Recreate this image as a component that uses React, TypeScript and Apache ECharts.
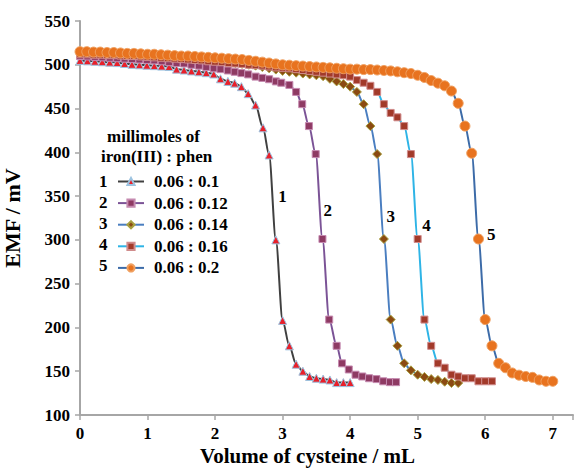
import React, { useEffect, useRef } from "react";
import * as echarts from "echarts";

const FONT = "Liberation Serif";

const seriesNames = ["0.06 : 0.1", "0.06 : 0.12", "0.06 : 0.14", "0.06 : 0.16", "0.06 : 0.2"];
const curveNumbers = ["1", "2", "3", "4", "5"];

const x1 = [0, 0.11, 0.22, 0.33, 0.44, 0.55, 0.66, 0.77, 0.88, 0.99, 1.1, 1.21, 1.32, 1.43, 1.54, 1.65, 1.76, 1.87, 1.98, 2.08, 2.19, 2.29, 2.39, 2.49, 2.6, 2.71, 2.8, 2.9, 3.0, 3.1, 3.2, 3.3, 3.4, 3.5, 3.6, 3.7, 3.8, 3.9, 4.0];
const y1 = [505, 504.5, 504, 503.5, 503, 502.5, 501.5, 500.5, 500, 499.5, 499, 498.5, 498, 495, 494, 493, 492, 491, 489.5, 484, 481, 479, 475, 467, 454, 428, 397, 300, 208, 179, 158, 150, 144, 142, 141, 140, 137, 137, 137];

const x2 = [0, 0.11, 0.22, 0.33, 0.44, 0.55, 0.66, 0.77, 0.88, 0.99, 1.1, 1.21, 1.32, 1.43, 1.54, 1.65, 1.76, 1.87, 1.98, 2.08, 2.19, 2.29, 2.39, 2.49, 2.6, 2.7, 2.8, 2.9, 2.98, 3.1, 3.2, 3.29, 3.39, 3.49, 3.59, 3.69, 3.8, 3.88, 3.98, 4.08, 4.18, 4.28, 4.39, 4.49, 4.59, 4.68];
const y2 = [510, 509.5, 509, 508.5, 508, 507.5, 507, 506.5, 506, 505.5, 505, 504, 503, 502, 501.5, 500, 499, 497.5, 496, 495, 493.5, 492, 490.5, 489, 486.5, 485, 483.5, 481, 479.5, 477, 469, 455, 430, 398, 301, 209, 179, 159, 152, 146, 144, 142, 141, 138.5, 137.5, 137.5];

const x3 = [0, 0.1, 0.2, 0.3, 0.4, 0.5, 0.6, 0.7, 0.8, 0.9, 1.0, 1.1, 1.2, 1.3, 1.4, 1.5, 1.6, 1.7, 1.8, 1.9, 2.0, 2.1, 2.2, 2.3, 2.4, 2.5, 2.6, 2.7, 2.8, 2.9, 3.0, 3.1, 3.2, 3.3, 3.4, 3.5, 3.6, 3.7, 3.8, 3.9, 4.0, 4.1, 4.2, 4.3, 4.4, 4.5, 4.6, 4.7, 4.8, 4.9, 5.0, 5.1, 5.2, 5.3, 5.4, 5.5, 5.6];
const y3 = [514, 514, 513.5, 513.5, 513, 513, 512.5, 512, 512, 511.5, 511, 510.5, 510, 509.5, 509, 508.5, 508, 507, 506.5, 506, 505, 504, 503, 502, 501, 500, 499, 497.5, 496, 494.5, 493, 492, 491, 490, 489, 488, 487, 484, 481, 478, 475, 469, 455, 430, 398, 301, 209, 179, 159, 151, 146, 143.5, 141, 140, 138, 136.5, 136.5];

const x4 = [0, 0.1, 0.2, 0.3, 0.4, 0.5, 0.6, 0.7, 0.8, 0.9, 1.0, 1.1, 1.2, 1.3, 1.4, 1.5, 1.6, 1.7, 1.8, 1.9, 2.0, 2.1, 2.2, 2.3, 2.4, 2.5, 2.6, 2.7, 2.8, 2.9, 3.0, 3.1, 3.2, 3.3, 3.4, 3.5, 3.6, 3.7, 3.8, 3.9, 4.0, 4.1, 4.2, 4.3, 4.4, 4.5, 4.6, 4.7, 4.8, 4.9, 5.0, 5.1, 5.2, 5.3, 5.4, 5.5, 5.6, 5.7, 5.8, 5.9, 6.0, 6.1];
const y4 = [512, 512, 511.5, 511.5, 511, 511, 510.5, 510, 510, 509.5, 509, 508.5, 508, 507.5, 507, 506.5, 506, 505.5, 505, 504, 503.5, 503, 502, 501.5, 501, 500, 499.5, 499, 498, 497, 496.5, 496, 495, 494, 493, 492, 491, 490, 489, 488, 486.5, 482.5, 479.5, 476, 469, 455, 445, 440, 430, 398, 301, 209, 179, 159, 154, 146, 144, 142, 142, 138.5, 138.5, 138.5];

const x5 = [0, 0.1, 0.2, 0.3, 0.4, 0.5, 0.6, 0.7, 0.8, 0.9, 1.0, 1.1, 1.2, 1.3, 1.4, 1.5, 1.6, 1.7, 1.8, 1.9, 2.0, 2.1, 2.2, 2.3, 2.4, 2.5, 2.6, 2.7, 2.8, 2.9, 3.0, 3.1, 3.2, 3.3, 3.4, 3.5, 3.6, 3.7, 3.8, 3.9, 4.0, 4.1, 4.2, 4.3, 4.4, 4.5, 4.6, 4.7, 4.8, 4.9, 5.0, 5.1, 5.2, 5.3, 5.4, 5.5, 5.6, 5.7, 5.8, 5.9, 6.0, 6.1, 6.2, 6.3, 6.4, 6.5, 6.6, 6.7, 6.8, 6.9, 7.0];
const y5 = [515, 515, 514.5, 514.5, 514, 514, 513.5, 513, 513, 512.5, 512, 512, 511.5, 511, 510.5, 510, 510, 509.5, 509, 508.5, 508, 507.5, 507, 506.5, 506, 505, 504, 503, 502, 501, 500, 499.5, 499, 498.5, 498, 497.5, 497, 496.5, 496, 495.5, 495, 495, 494.5, 494.5, 494, 493.5, 493, 492, 491, 490, 488, 485.5, 482, 479, 476, 470, 456, 430, 399, 301, 209, 179, 159, 154, 148, 145.5, 144, 143, 140, 138.5, 138.5];

// curve number annotation positions (data coords)
const labelX = [3.0, 3.67, 4.6, 5.13, 6.09];
const labelY = [350, 333, 327, 316, 306];

const xTicksMax = 7.3;

const styles = [
  { line: "#404040", fill: "#E8202A", border: "#9CC3E0", symbol: "triangle", size: 8 },
  { line: "#7B5396", fill: "#8E3A63", border: "#C58AB0", symbol: "rect", size: 7 },
  { line: "#4A7EC0", fill: "#8B4A12", border: "#A8A040", symbol: "diamond", size: 9 },
  { line: "#2EB4E6", fill: "#A23A2A", border: "#D08C8C", symbol: "rect", size: 7 },
  { line: "#3C6BA8", fill: "#E8731F", border: "#F0A060", symbol: "circle", size: 10 },
];

export default function App() {
  const ref = useRef<HTMLDivElement>(null);
  useEffect(() => {
    if (!ref.current) return;
    const chart = echarts.init(ref.current, undefined, { renderer: "svg" });
    const xs = [x1, x2, x3, x4, x5];
    const ys = [y1, y2, y3, y4, y5];
    const series = xs.map((xArr, k) => ({
      type: "line",
      name: seriesNames[k],
      data: xArr.map((x, i) => [x, ys[k][i]]),
      smooth: 0.3,
      smoothMonotone: "x",
      symbol: styles[k].symbol,
      symbolSize: styles[k].size,
      showAllSymbol: true,
      z: 2 + k,
      lineStyle: { color: styles[k].line, width: 2 },
      itemStyle: { color: styles[k].fill, borderColor: styles[k].border, borderWidth: 1 },
      markPoint: {
        symbol: "circle",
        symbolSize: 1,
        itemStyle: { color: "rgba(0,0,0,0)" },
        label: {
          show: true,
          position: "inside",
          formatter: curveNumbers[k],
          color: "#000",
          fontFamily: FONT,
          fontWeight: "bold",
          fontSize: 17,
        },
        data: [{ coord: [labelX[k], labelY[k]] }],
      },
    }));
    const boldText = { fontFamily: FONT, fontWeight: "bold", color: "#000" };
    const numberTexts = curveNumbers.map((n, i) => ({
      type: "text",
      left: 99,
      top: 173 + i * 21,
      style: { text: n, fontFamily: FONT, fontWeight: "bold", fontSize: 17, fill: "#000" },
    }));
    chart.setOption({
      animation: false,
      backgroundColor: "#fff",
      grid: { left: 80, top: 21, right: 2, bottom: 54, containLabel: false, outerBoundsMode: "none" },
      xAxis: {
        type: "value",
        min: 0,
        max: xTicksMax,
        interval: 1,
        axisLine: { show: true, lineStyle: { color: "#A6A6A6", width: 2 } },
        axisTick: { show: true, length: 5, lineStyle: { color: "#A6A6A6", width: 1.5 } },
        splitLine: { show: false },
        axisLabel: {
          ...boldText,
          fontSize: 17,
          margin: 10,
          formatter: (v: number) => (Number.isInteger(v) ? String(v) : ""),
        },
      },
      yAxis: {
        type: "value",
        min: 100,
        max: 550,
        interval: 50,
        name: "EMF / mV",
        nameLocation: "middle",
        nameGap: 57,
        nameTextStyle: { ...boldText, fontSize: 22 },
        axisLine: { show: true, lineStyle: { color: "#A6A6A6", width: 2 } },
        axisTick: { show: true, length: 5, lineStyle: { color: "#A6A6A6", width: 1.5 } },
        splitLine: { show: false },
        axisLabel: { ...boldText, fontSize: 17, margin: 10 },
      },
      legend: {
        orient: "vertical",
        left: 117,
        top: 173,
        padding: 0,
        itemWidth: 26,
        itemHeight: 9,
        itemGap: 4.6,
        data: seriesNames,
        textStyle: { ...boldText, fontSize: 17, lineHeight: 16, padding: [0, 0, 0, 5] },
      },
      graphic: [
        {
          type: "text",
          left: 107,
          top: 128,
          style: { text: "millimoles of", fontFamily: FONT, fontWeight: "bold", fontSize: 17, fill: "#000" },
        },
        {
          type: "text",
          left: 101,
          top: 148,
          style: { text: "iron(III) : phen", fontFamily: FONT, fontWeight: "bold", fontSize: 17, fill: "#000" },
        },
        ...numberTexts,
        {
          type: "text",
          left: 200,
          top: 445,
          style: {
            text: "Volume of cysteine / mL",
            fontFamily: FONT,
            fontWeight: "bold",
            fontSize: 21,
            fill: "#000",
          },
        },
      ],
      series,
    });
    return () => chart.dispose();
  }, []);
  return (
    <div
      ref={ref}
      style={{ position: "absolute", left: 0, top: 0, width: 575, height: 469 }}
    />
  );
}
